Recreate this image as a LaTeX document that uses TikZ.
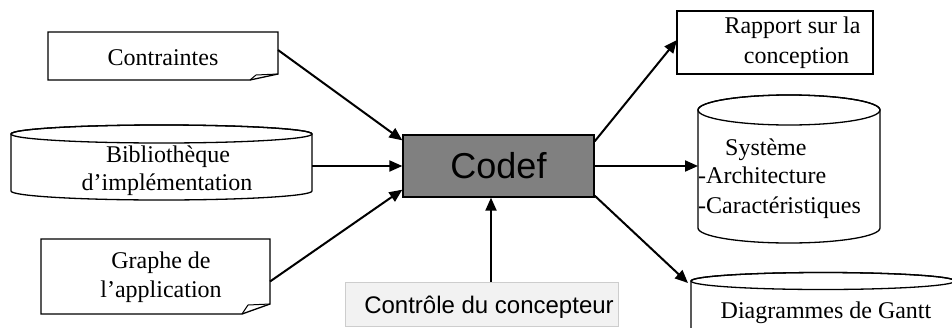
\documentclass[tikz,border=0pt]{standalone}
\usepackage{fontspec}
\setmainfont{Liberation Serif}
\newfontfamily\arialfont{Liberation Sans}
\usetikzlibrary{calc,arrows.meta}

% Document shape with a curled lower-right corner: node, curl width, curl height
\newcommand\docoutline[3]{%
  \draw[boxline, fill=white] (#1.north west) -- (#1.north east)
    -- ($(#1.south east)+(0,-#3)$) -- ($(#1.south east)+(-#2,0)$)
    -- (#1.south west) -- cycle;
  \draw[boxline, line width=1pt] ($(#1.south east)+(-#2,0)$)
    -- ($(#1.south east)+(-#2+6,-#3+1)$) -- ($(#1.south east)+(0,-#3)$);
}
% Upright cylinder around a body node: node, x radius, y radius
\newcommand\cylinderoutline[3]{%
  \draw[boxline, fill=white] (#1.north west) -- (#1.south west)
    arc[start angle=180, end angle=360, x radius=#2, y radius=#3]
    -- (#1.north east)
    arc[start angle=0, end angle=180, x radius=#2, y radius=#3] -- cycle;
  \draw[boxline] (#1.north) ellipse[x radius=#2, y radius=#3];
}

\begin{document}
\begin{tikzpicture}[x=1pt, y=-1pt,
  boxline/.style={draw=black, line width=1.3pt},
  flow/.style={line width=2pt, -{Triangle[length=13pt, width=11pt]}},
  txt/.style={font=\fontsize{24}{29}\selectfont, inner sep=0pt, anchor=base},
  txtl/.style={txt, anchor=base west},
  area/.style={inner sep=0pt, outer sep=0pt},
]
\useasboundingbox (0,0) rectangle (952,327);
\clip (0,0) rectangle (952,327);

% ---- body areas of the shapes ----
\node[area, minimum width=230pt, minimum height=48pt] (cont) at (163,56) {};
\node[area, minimum width=301pt, minimum height=57pt] (bib) at (161.5,162.5) {};
\node[area, minimum width=229pt, minimum height=75pt] (graph) at (155.5,276.5) {};
\node[area, minimum width=196pt, minimum height=63pt] (rap) at (775,42.5) {};
\node[area, minimum width=182pt, minimum height=118pt] (sys) at (789,169) {};
\node[area, minimum width=264pt, minimum height=69pt] (gantt) at (823,315.5) {};

% ---- outlines ----
\docoutline{cont}{28}{6}
\docoutline{graph}{28}{10}
\cylinderoutline{bib}{150.5pt}{9pt}
\cylinderoutline{sys}{91pt}{15pt}
\cylinderoutline{gantt}{132pt}{8.5pt}
\draw[boxline] (rap.north west) rectangle (rap.south east);

% central process
\node[draw=black, line width=1.3pt, fill={rgb,255:red,128;green,128;blue,128},
      minimum width=191pt, minimum height=62pt, inner sep=0pt,
      font=\arialfont\fontsize{36}{40}\selectfont] (codef) at (498.5,166) {Codef};

% designer control
\node[draw={rgb,255:red,205;green,205;blue,205}, line width=0.8pt,
      fill={rgb,255:red,242;green,242;blue,242},
      minimum width=273pt, minimum height=44pt, inner sep=0pt] (ctrl) at (481.5,304) {};

% ---- texts ----
\node[txt] (contT) at (163,65) {Contraintes};
\node[txt] (bibA) at (168,162) {Bibliothèque};
\node[txt] (bibB) at (167,190) {d’implémentation};
\node[txt] (grA) at (161,268) {Graphe de};
\node[txt] (grB) at (161,297) {l’application};
\node[txt] (rapA) at (792.5,33) {Rapport sur la};
\node[txt] (rapB) at (796.5,63) {conception};
\node[txtl] (sysA) at (725,155) {Système};
\node[txtl] (sysB) at (698,183) {-Architecture};
\node[txtl] (sysC) at (698,213) {-Caractéristiques};
\node[txt] (ganttT) at (826,318) {Diagrammes de Gantt};
\node[txt, font=\arialfont\fontsize{24}{29}\selectfont] (ctrlT) at (489,313) {Contrôle du concepteur};

% ---- flows ----
\draw[flow] ($(cont.east)+(0,-6)$) -- ($(codef.north west)+(0,6)$);
\draw[flow] (bib.east |- codef.west) -- (codef.west);
\draw[flow] ($(graph.east)+(0,5)$) -- ($(codef.south west)+(0,-8)$);
\draw[flow] ($(ctrl.north)+(9.5,0)$) -- ($(codef.south)+(-7.5,0)$);
\draw[flow] ($(codef.north east)+(0,7)$) -- ($(rap.west)+(0,-2.5)$);
\draw[flow] (codef.east) -- (sys.west |- codef.east);
\draw[flow] ($(codef.south east)+(0,-2)$) -- ($(gantt.north west)+(-3,2)$);
\end{tikzpicture}
\end{document}
